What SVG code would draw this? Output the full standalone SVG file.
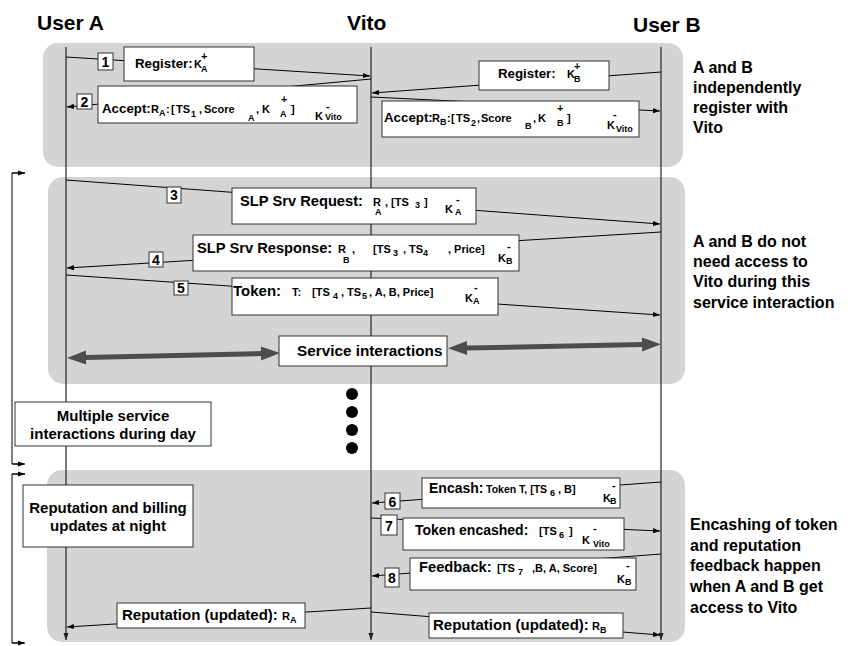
<svg xmlns="http://www.w3.org/2000/svg" width="855" height="646" viewBox="0 0 855 646">
<style>
.t{font-family:"Liberation Sans",Arial,Helvetica,sans-serif;font-weight:bold;fill:#000}
.title{font-size:21px}
.lab{font-size:14.7px}
.reg{font-size:13.3px}
.m{font-size:11px}
.s{font-size:9px}
.n{font-size:14px;text-anchor:middle}
.note{font-size:16px}
.c{text-anchor:middle;font-size:15px}
.box{fill:#fff;stroke:#333;stroke-width:1}
.panel{fill:#d4d4d4}
.msg{stroke:#000;stroke-width:1;fill:none;marker-end:url(#ah)}
.life{stroke:#222;stroke-width:1.2;fill:none;marker-end:url(#ahd)}
.thick{stroke:#4d4d4d;stroke-width:5;fill:none;marker-start:url(#big);marker-end:url(#big)}
.br{stroke:#000;stroke-width:1;fill:none}
.tick{stroke:#000;stroke-width:1;fill:none;marker-end:url(#ah)}
</style>
<defs>
<marker id="ah" markerUnits="userSpaceOnUse" markerWidth="8" markerHeight="6" refX="7" refY="3" orient="auto"><path d="M0,0.4 L7,3 L0,5.6 z" fill="#000"/></marker>
<marker id="ahd" markerUnits="userSpaceOnUse" markerWidth="8" markerHeight="6" refX="7" refY="3" orient="auto"><path d="M0,0.4 L7,3 L0,5.6 z" fill="#222"/></marker>
<marker id="big" markerUnits="userSpaceOnUse" markerWidth="20" markerHeight="16" refX="0" refY="8" orient="auto-start-reverse" overflow="visible"><path d="M-1,1 L18,8 L-1,15 z" fill="#4d4d4d"/></marker>
</defs>
<rect width="855" height="646" fill="#fff"/>
<g id="panels">
<rect class="panel" x="43" y="43" width="640" height="124" rx="15"/>
<rect class="panel" x="48" y="177" width="637" height="207" rx="15"/>
<rect class="panel" x="47" y="470" width="638" height="172" rx="15"/>
</g>
<g id="titles">
<text class="t title" x="37" y="30">User A</text>
<text class="t title" x="347" y="30">Vito</text>
<text class="t title" x="633" y="32">User B</text>
</g>
<g id="lifelines">
<line class="life" x1="66" y1="47" x2="66" y2="640"/>
<line class="life" x1="371" y1="47" x2="371" y2="640"/>
<line class="life" x1="661" y1="47" x2="661" y2="640"/>
</g>
<g id="connectors">
<line class="msg" x1="66" y1="57" x2="370" y2="76"/>
<line class="msg" x1="371" y1="79" x2="67" y2="107"/>
<line class="msg" x1="661" y1="72" x2="372" y2="93"/>
<line class="msg" x1="371" y1="97" x2="660" y2="111"/>
<line class="msg" x1="66" y1="180" x2="660" y2="224"/>
<line class="msg" x1="661" y1="232" x2="67" y2="268"/>
<line class="msg" x1="66" y1="275" x2="660" y2="315"/>
<line class="thick" x1="85" y1="357.5" x2="262" y2="353.5"/>
<line class="thick" x1="466" y1="348" x2="643" y2="344.5"/>
<line class="msg" x1="661" y1="482" x2="372" y2="503"/>
<line class="msg" x1="371" y1="518" x2="660" y2="531"/>
<line class="msg" x1="661" y1="554" x2="372" y2="576"/>
<line class="msg" x1="371" y1="608" x2="67" y2="627"/>
<line class="msg" x1="371" y1="612" x2="660" y2="635"/>
<polyline class="br" points="25,173 12,173 12,464 24,464"/>
<line class="tick" x1="12" y1="173" x2="25" y2="173"/>
<line class="tick" x1="12" y1="464" x2="25" y2="464"/>
<polyline class="br" points="25,474 12,474 12,643 24,643"/>
<line class="tick" x1="12" y1="474" x2="25" y2="474"/>
<line class="tick" x1="12" y1="643" x2="25" y2="643"/>
</g>
<g id="n1">
<rect class="box" x="98" y="53" width="15" height="17"/>
<text class="t n" x="105.5" y="67">1</text>
</g>
<g id="register-a">
<rect class="box" x="124" y="47" width="130" height="34"/>
<text class="t reg" x="135" y="68">Register:</text>
<text class="t m" x="194" y="68">K</text>
<text class="t m" x="201" y="60">+</text>
<text class="t s" x="201" y="72">A</text>
</g>
<g id="n2">
<rect class="box" x="77" y="94" width="15" height="15"/>
<text class="t n" x="84.5" y="107">2</text>
</g>
<g id="accept-a">
<rect class="box" x="98" y="86" width="259" height="37"/>
<text class="t reg" x="102" y="113">Accept:</text>
<text class="t m" x="151" y="113">R</text>
<text class="t s" x="159" y="116">A</text>
<text class="t m" x="166" y="113">:</text>
<text class="t m" x="171" y="113">[</text>
<text class="t m" x="176" y="113">TS</text>
<text class="t s" x="191" y="117">1</text>
<text class="t m" x="199" y="113">,</text>
<text class="t m" x="204" y="113" font-size="12">Score</text>
<text class="t s" x="248" y="121">A</text>
<text class="t m" x="256" y="113">,</text>
<text class="t m" x="262" y="113">K</text>
<text class="t m" x="281" y="103">+</text>
<text class="t s" x="280" y="117">A</text>
<text class="t m" x="291" y="113">]</text>
<text class="t m" x="315" y="120">K</text>
<text class="t m" x="326" y="110">-</text>
<text class="t s" x="325" y="120">Vito</text>
</g>
<g id="register-b">
<rect class="box" x="479" y="61" width="130" height="29"/>
<text class="t reg" x="498" y="78">Register:</text>
<text class="t m" x="567" y="78">K</text>
<text class="t m" x="574" y="70">+</text>
<text class="t s" x="574" y="82">B</text>
</g>
<g id="accept-b">
<rect class="box" x="382" y="101" width="257" height="36"/>
<text class="t reg" x="384" y="122">Accept:</text>
<text class="t m" x="432" y="122">R</text>
<text class="t s" x="440" y="125">B</text>
<text class="t m" x="447" y="122">:</text>
<text class="t m" x="451" y="122">[</text>
<text class="t m" x="456" y="122">TS</text>
<text class="t s" x="471" y="126">2</text>
<text class="t m" x="477" y="122">,</text>
<text class="t m" x="481" y="122" font-size="12">Score</text>
<text class="t s" x="525" y="129">B</text>
<text class="t m" x="533" y="122">,</text>
<text class="t m" x="538" y="122">K</text>
<text class="t m" x="557" y="112">+</text>
<text class="t s" x="557" y="126">B</text>
<text class="t m" x="567" y="122">]</text>
<text class="t m" x="607" y="129">K</text>
<text class="t m" x="613" y="118">-</text>
<text class="t s" x="616" y="132">Vito</text>
</g>
<g id="note-register">
<text class="t note" x="693" y="73">A and B</text>
<text class="t note" x="693" y="93">independently</text>
<text class="t note" x="693" y="113">register with</text>
<text class="t note" x="693" y="133">Vito</text>
</g>
<g id="n3">
<rect class="box" x="167" y="187" width="14" height="16"/>
<text class="t n" x="174" y="200">3</text>
</g>
<g id="slp-request">
<rect class="box" x="232" y="188" width="244" height="36"/>
<text class="t lab" x="240" y="206">SLP Srv Request:</text>
<text class="t m" x="373" y="206">R</text>
<text class="t s" x="375" y="215">A</text>
<text class="t m" x="385" y="206">, [TS</text>
<text class="t s" x="415" y="208">3</text>
<text class="t m" x="424" y="206">]</text>
<text class="t m" x="445" y="213">K</text>
<text class="t m" x="456" y="203">-</text>
<text class="t s" x="455" y="215">A</text>
</g>
<g id="n4">
<rect class="box" x="149" y="252" width="14" height="15"/>
<text class="t n" x="156" y="265">4</text>
</g>
<g id="slp-response">
<rect class="box" x="193" y="235" width="326" height="36"/>
<text class="t lab" x="197" y="253">SLP Srv Response:</text>
<text class="t m" x="338" y="253">R</text>
<text class="t s" x="343" y="263">B</text>
<text class="t m" x="352" y="253">,</text>
<text class="t m" x="373" y="253">[TS</text>
<text class="t s" x="393" y="256">3</text>
<text class="t m" x="403" y="253">, TS</text>
<text class="t s" x="423" y="256">4</text>
<text class="t m" x="448" y="253">, Price]</text>
<text class="t m" x="498" y="262">K</text>
<text class="t m" x="507" y="250">-</text>
<text class="t s" x="506" y="264">B</text>
</g>
<g id="n5">
<rect class="box" x="174" y="281" width="14" height="14"/>
<text class="t n" x="181" y="293">5</text>
</g>
<g id="token">
<rect class="box" x="232" y="278" width="266" height="37"/>
<text class="t" x="233" y="296" font-size="15">Token:</text>
<text class="t m" x="292" y="296">T:</text>
<text class="t m" x="312" y="296">[TS</text>
<text class="t s" x="333" y="299">4</text>
<text class="t m" x="341" y="296">, TS</text>
<text class="t s" x="362" y="299">5</text>
<text class="t m" x="369" y="296">, A, B, Price]</text>
<text class="t m" x="465" y="302">K</text>
<text class="t m" x="474" y="291">-</text>
<text class="t s" x="473" y="304">A</text>
</g>
<g id="service">
<rect class="box" x="279" y="336" width="168" height="30"/>
<text class="t" x="297" y="356" font-size="15.3">Service interactions</text>
</g>
<g id="note-service">
<text class="t note" x="693" y="247">A and B do not</text>
<text class="t note" x="693" y="267">need access to</text>
<text class="t note" x="693" y="287">Vito during this</text>
<text class="t note" x="693" y="308">service interaction</text>
</g>
<g id="dots">
<circle cx="352" cy="394" r="6"/>
<circle cx="352" cy="412" r="6"/>
<circle cx="352" cy="430" r="6"/>
<circle cx="352" cy="448" r="6"/>
</g>
<g id="multiple">
<rect class="box" x="15" y="402" width="196" height="44"/>
<text class="t c" x="113" y="421">Multiple service</text>
<text class="t c" x="113" y="439">interactions during day</text>
</g>
<g id="night">
<rect class="box" x="23" y="485" width="170" height="62"/>
<text class="t c" x="108" y="513">Reputation and billing</text>
<text class="t c" x="108" y="531">updates at night</text>
</g>
<g id="n6">
<rect class="box" x="385" y="493" width="15" height="16"/>
<text class="t n" x="392.5" y="507">6</text>
</g>
<g id="encash">
<rect class="box" x="422" y="478" width="198" height="30"/>
<text class="t" x="429" y="493" font-size="14">Encash:</text>
<text class="t" x="486" y="493" font-size="10.5">Token T, [TS</text>
<text class="t s" x="550" y="496">6</text>
<text class="t m" x="558" y="493">, B]</text>
<text class="t m" x="603" y="502">K</text>
<text class="t m" x="612" y="489">-</text>
<text class="t s" x="610" y="504">B</text>
</g>
<g id="n7">
<rect class="box" x="381" y="515" width="16" height="20"/>
<text class="t n" x="389" y="531">7</text>
</g>
<g id="encashed">
<rect class="box" x="403" y="518" width="221" height="32"/>
<text class="t" x="415" y="535" font-size="14">Token encashed:</text>
<text class="t m" x="539" y="535">[TS</text>
<text class="t s" x="559" y="538">6</text>
<text class="t m" x="569" y="535">]</text>
<text class="t m" x="582" y="544">K</text>
<text class="t m" x="593" y="532">-</text>
<text class="t s" x="593" y="547">Vito</text>
</g>
<g id="n8">
<rect class="box" x="385" y="568" width="14" height="19"/>
<text class="t n" x="392" y="583">8</text>
</g>
<g id="feedback">
<rect class="box" x="410" y="558" width="226" height="32"/>
<text class="t" x="419" y="572" font-size="14.7">Feedback:</text>
<text class="t m" x="497" y="572">[TS</text>
<text class="t s" x="518" y="575">7</text>
<text class="t m" x="532" y="572">,B, A, Score]</text>
<text class="t m" x="617" y="583">K</text>
<text class="t m" x="626" y="569">-</text>
<text class="t s" x="625" y="585">B</text>
</g>
<g id="rep-a">
<rect class="box" x="117" y="603" width="188" height="25"/>
<text class="t" x="122" y="620" font-size="15">Reputation (updated):</text>
<text class="t m" x="282" y="620">R</text>
<text class="t s" x="290" y="623">A</text>
</g>
<g id="rep-b">
<rect class="box" x="429" y="613" width="194" height="25"/>
<text class="t" x="433" y="630" font-size="15">Reputation (updated):</text>
<text class="t m" x="592" y="630">R</text>
<text class="t s" x="600" y="633">B</text>
</g>
<g id="note-encash">
<text class="t note" x="690" y="530">Encashing of token</text>
<text class="t note" x="690" y="551">and reputation</text>
<text class="t note" x="690" y="571">feedback happen</text>
<text class="t note" x="690" y="592">when A and B get</text>
<text class="t note" x="690" y="613">access to Vito</text>
</g>
</svg>
